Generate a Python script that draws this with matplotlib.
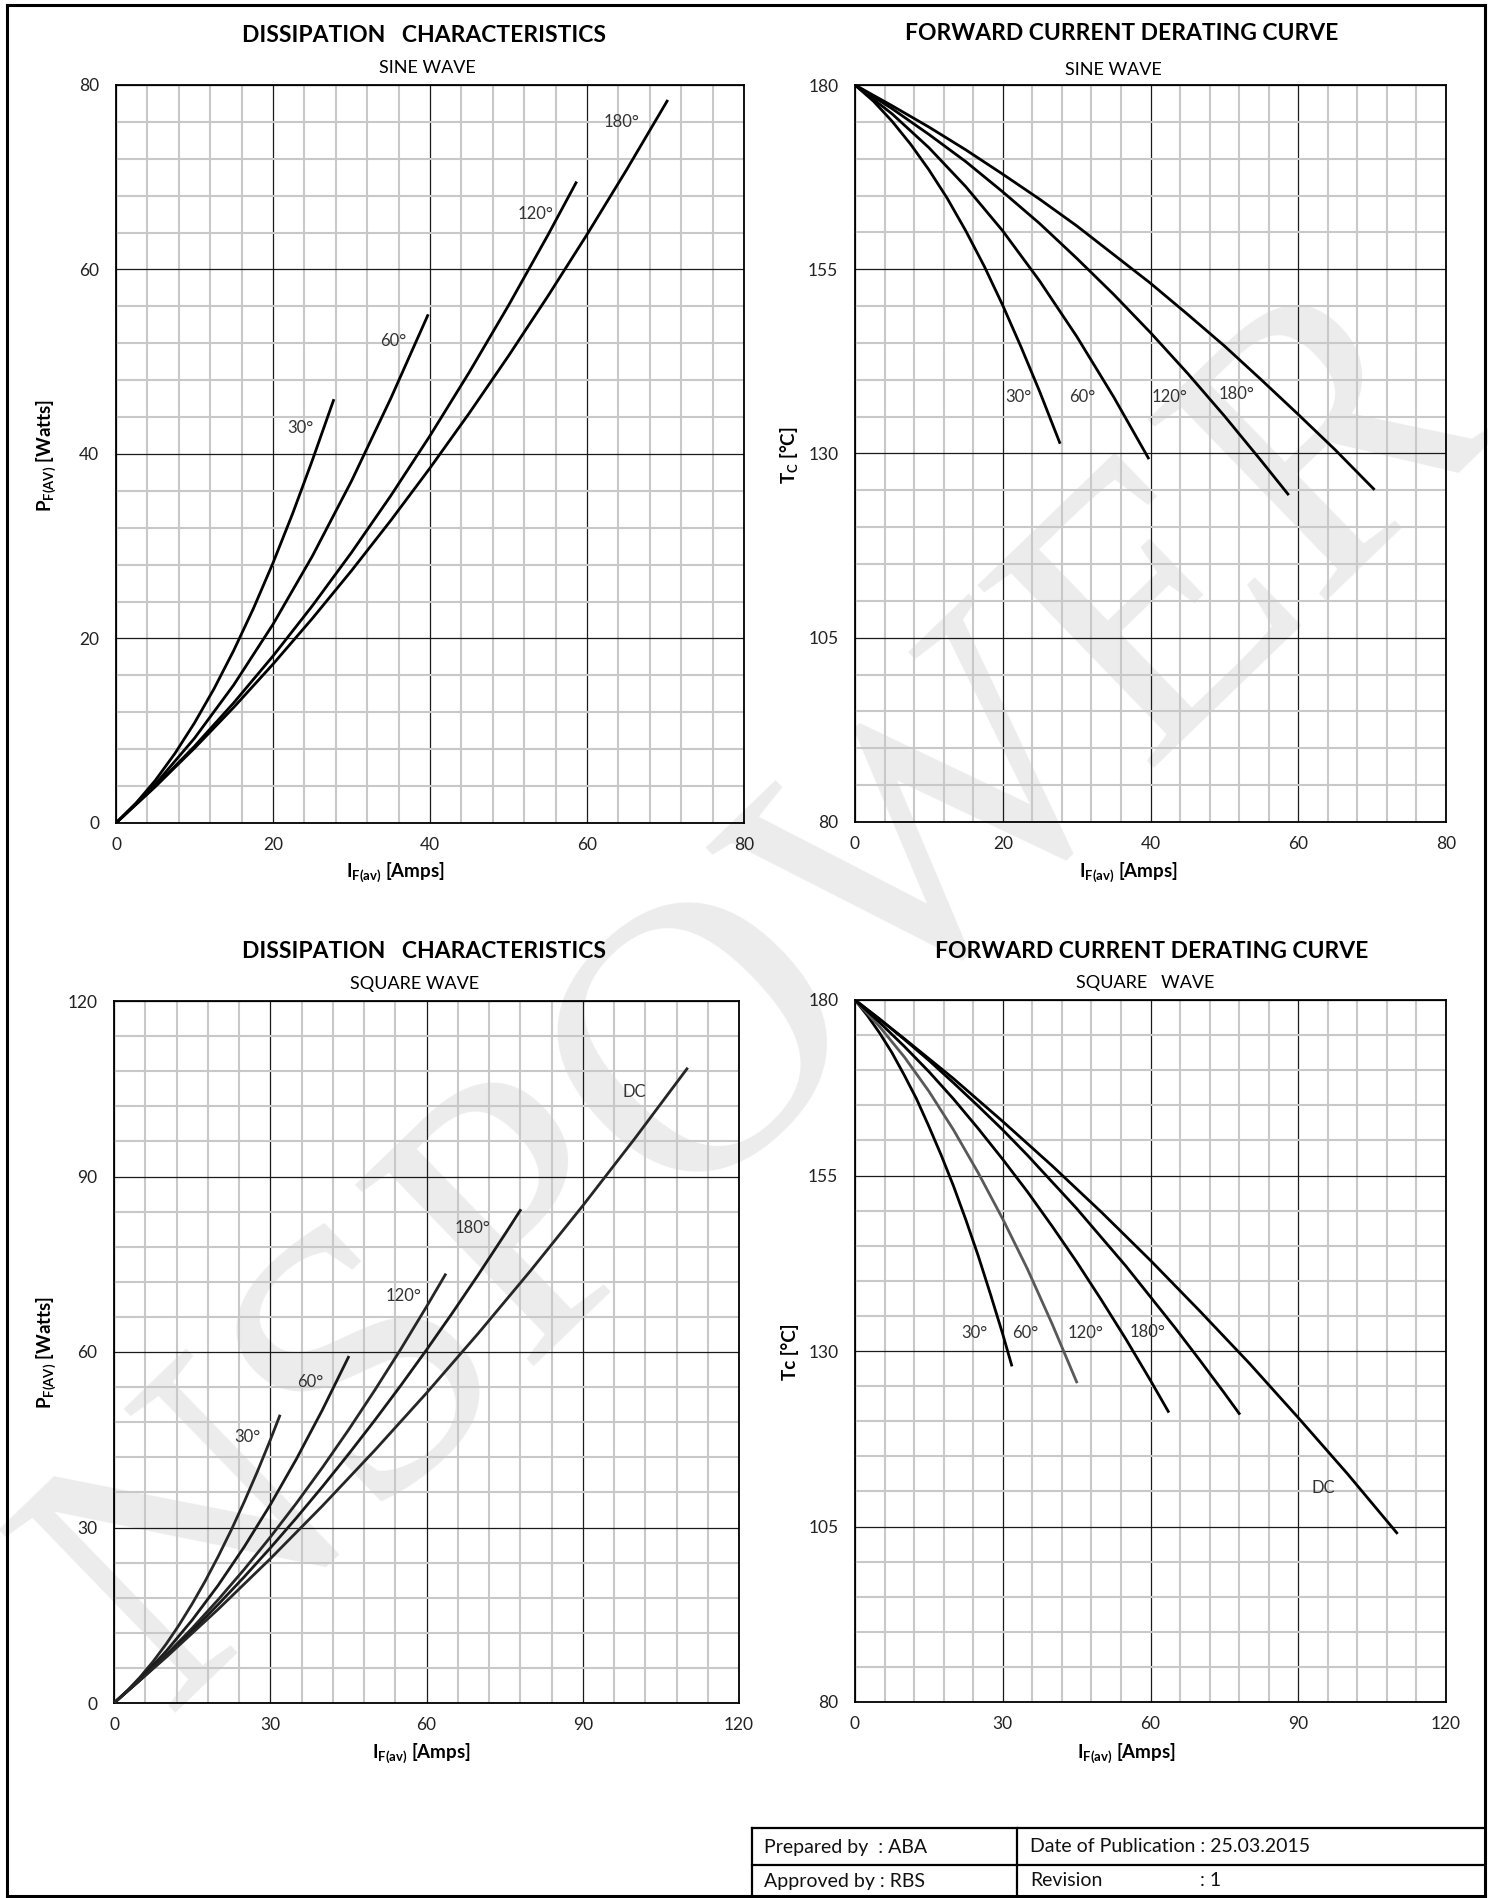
import matplotlib
matplotlib.use('Agg')
import matplotlib.pyplot as plt
from matplotlib.ticker import MultipleLocator, FixedLocator
from matplotlib.lines import Line2D

# ---------------- data ----------------
# Sine wave dissipation  (I_F(av) [A], P_F(AV) [W])
sine_i30 = [0, 2.5, 5, 7.5, 10, 12.5, 15, 17.5, 20, 22.5, 25, 27.7]
sine_p30 = [0, 2.10, 4.61, 7.53, 10.85, 14.57, 18.71, 23.24, 28.19, 33.54, 39.29, 45.8]
sine_i60 = [0, 5, 10, 15, 20, 25, 30, 35, 39.7]
sine_p60 = [0, 4.20, 9.19, 14.97, 21.54, 28.91, 37.07, 46.02, 55.0]
sine_i120 = [0, 5, 10, 15, 20, 25, 30, 35, 40, 45, 50, 55, 58.6]
sine_p120 = [0, 3.98, 8.32, 13.03, 18.10, 23.53, 29.32, 35.47, 41.98, 48.86, 56.1, 63.7, 69.4]
sine_i180 = [0, 5, 10, 15, 20, 25, 30, 35, 40, 45, 50, 55, 60, 65, 70.2]
sine_p180 = [0, 3.93, 8.11, 12.54, 17.22, 22.16, 27.35, 32.79, 38.48, 44.43, 50.63, 57.09, 63.79, 70.75, 78.25]

# Sine wave derating (Tc [degC])
sine_t30 = [180, 177.8, 175.1, 172.0, 168.5, 164.6, 160.2, 155.4, 150.1, 144.4, 138.4, 131.5]
sine_t60 = [180, 176.1, 171.5, 166.2, 160.2, 153.4, 145.9, 137.7, 129.4]
sine_t120 = [180, 176.8, 173.3, 169.6, 165.5, 161.2, 156.5, 151.6, 146.4, 140.9, 135.1, 129.0, 124.5]
sine_t180 = [180, 177.2, 174.3, 171.2, 167.9, 164.5, 160.9, 157.0, 153.1, 148.9, 144.6, 140.0, 135.3, 130.5, 125.2]

# Square wave dissipation
sq_i30 = [0, 2.5, 5, 7.5, 10, 12.5, 15, 17.5, 20, 22.5, 25, 27.5, 30, 31.8]
sq_p30 = [0, 2.05, 4.42, 7.08, 10.06, 13.34, 16.94, 20.83, 25.04, 29.55, 34.38, 39.5, 44.94, 49.05]
sq_i60 = [0, 5, 10, 15, 20, 25, 30, 35, 40, 45]
sq_p60 = [0, 4.11, 8.83, 14.17, 20.12, 26.69, 33.87, 41.67, 50.08, 59.1]
sq_i120 = [0, 5, 10, 15, 20, 25, 30, 35, 40, 45, 50, 55, 60, 63.6]
sq_p120 = [0, 3.95, 8.22, 12.78, 17.66, 22.84, 28.34, 34.13, 40.24, 46.65, 53.38, 60.4, 67.74, 73.2]
sq_i180 = [0, 5, 10, 15, 20, 25, 30, 35, 40, 45, 50, 55, 60, 65, 70, 75, 78]
sq_p180 = [0, 3.90, 8.01, 12.32, 16.84, 21.56, 26.49, 31.62, 36.96, 42.50, 48.25, 54.2, 60.36, 66.72, 73.29, 80.06, 84.2]
sq_idc = [0, 10, 20, 30, 40, 50, 60, 70, 80, 90, 100, 110]
sq_pdc = [0, 7.81, 16.02, 24.65, 33.68, 43.13, 52.98, 63.25, 73.92, 85.0, 96.5, 108.4]

# Square wave derating
sq_t30 = [180, 177.8, 175.3, 172.5, 169.3, 165.9, 162.0, 157.9, 153.5, 148.7, 143.6, 138.1, 132.4, 128.0]
sq_t60 = [180, 176.2, 171.9, 167.0, 161.5, 155.4, 148.8, 141.7, 133.9, 125.6]
sq_t120 = [180, 176.8, 173.4, 169.8, 165.9, 161.7, 157.3, 152.7, 147.8, 142.7, 137.3, 131.7, 125.8, 121.4]
sq_t180 = [180, 177.3, 174.4, 171.4, 168.2, 164.9, 161.5, 157.9, 154.1, 150.3, 146.2, 142.1, 137.7, 133.3, 128.7, 124.0, 121.1]
sq_tdc = [180, 174.5, 168.8, 162.7, 156.4, 149.8, 142.9, 135.7, 128.3, 120.5, 112.5, 104.1]

curve_names = ['30°', '60°', '120°', '180°', 'DC']

# tick values
ticks_i80 = [0, 20, 40, 60, 80]
ticks_p80 = [0, 20, 40, 60, 80]
ticks_i120 = [0, 30, 60, 90, 120]
ticks_p120 = [0, 30, 60, 90, 120]
ticks_tc = [80, 105, 130, 155, 180]

# ---------------- figure ----------------
W, H = 1488, 1898
plt.rcParams['font.family'] = ['Lato', 'DejaVu Sans']
plt.rcParams['mathtext.fontset'] = 'custom'
plt.rcParams['mathtext.rm'] = 'Lato'
plt.rcParams['mathtext.bf'] = 'Lato:bold'
plt.rcParams['mathtext.it'] = 'Lato:italic'

fig = plt.figure(figsize=(W / 100, H / 100), dpi=100)
fig.patch.set_facecolor('white')


def fxy(x, y):
    return x / W, 1 - y / H


# watermark (behind everything)
wx, wy = fxy(768, 1000)
fig.text(wx, wy, 'NSPOWER', family='Liberation Serif', fontsize=280, color='#ececec',
         rotation=44, ha='center', va='center', zorder=-5, rotation_mode='anchor')


def make_ax(l, r, t, b, xt, xmin, yt, ymin):
    ax = fig.add_axes([l / W, 1 - b / H, (r - l) / W, (b - t) / H])
    ax.set_facecolor('none')
    ax.set_xlim(xt[0], xt[-1])
    ax.set_ylim(yt[0], yt[-1])
    ax.xaxis.set_major_locator(FixedLocator(xt))
    ax.xaxis.set_minor_locator(MultipleLocator(xmin))
    ax.yaxis.set_major_locator(FixedLocator(yt))
    ax.yaxis.set_minor_locator(MultipleLocator(ymin))
    ax.grid(which='minor', color='#c8c8c8', lw=1.5, zorder=0)
    ax.grid(which='major', color='#1a1a1a', lw=0.9, zorder=1)
    ax.set_axisbelow(True)
    for s in ax.spines.values():
        s.set_color('black')
        s.set_linewidth(1.3)
    ax.tick_params(which='both', length=0, labelsize=12.5, colors='#222222')
    ax.tick_params(axis='x', pad=10)
    ax.tick_params(axis='y', pad=12)
    return ax


def ftext(x, y, s, **kw):
    fx, fy = fxy(x, y)
    fig.text(fx, fy, s, ha='center', va='center', **kw)


LW = 2.0
lab_kw = dict(fontsize=12, color='#333333', ha='center', va='center')

# ---- top-left: sine dissipation ----
ax1 = make_ax(116, 744, 85, 823, ticks_i80, 4, ticks_p80, 4)
for xi, yi in [(sine_i30, sine_p30), (sine_i60, sine_p60), (sine_i120, sine_p120), (sine_i180, sine_p180)]:
    ax1.plot(xi, yi, color='black', lw=LW, zorder=3)
for (x, y), s in zip([(23.5, 42.8), (35.3, 52.3), (53.4, 66.0), (64.4, 76.0)], curve_names):
    ax1.text(x, y, s, **lab_kw)
ftext(424, 35, 'DISSIPATION   CHARACTERISTICS', fontsize=16.5, fontweight='bold')
ftext(427, 68, 'SINE WAVE', fontsize=13)
ftext(395, 872, r'$\mathbf{I_{F(av)}}$ [Amps]', fontsize=13.5, fontweight='bold')
ftext(46, 455, r'$\mathbf{P_{F(AV)}}$ [Watts]', fontsize=13.5, fontweight='bold', rotation=90)

# ---- top-right: sine derating ----
ax2 = make_ax(855, 1446, 85, 822, ticks_i80, 4, ticks_tc, 5)
for xi, yi in [(sine_i30, sine_t30), (sine_i60, sine_t60), (sine_i120, sine_t120), (sine_i180, sine_t180)]:
    ax2.plot(xi, yi, color='black', lw=LW, zorder=3)
for (x, y), s in zip([(22.1, 137.7), (30.8, 137.7), (42.6, 137.7), (51.7, 138.1)], curve_names):
    ax2.text(x, y, s, **lab_kw)
ftext(1122, 33, 'FORWARD CURRENT DERATING CURVE', fontsize=16.5, fontweight='bold')
ftext(1113, 70, 'SINE WAVE', fontsize=13)
ftext(1128, 872, r'$\mathbf{I_{F(av)}}$ [Amps]', fontsize=13.5, fontweight='bold')
ftext(789, 455, r'$\mathbf{T_{C}}$ [°C]', fontsize=13.5, fontweight='bold', rotation=90)

# ---- bottom-left: square dissipation ----
ax3 = make_ax(114, 739, 1001, 1703, ticks_i120, 6, ticks_p120, 6)
sq_cols = ['#262626', '#1a1a1a', '#262626', '#1a1a1a', '#262626']
for (xi, yi), c in zip([(sq_i30, sq_p30), (sq_i60, sq_p60), (sq_i120, sq_p120), (sq_i180, sq_p180), (sq_idc, sq_pdc)], sq_cols):
    ax3.plot(xi, yi, color=c, lw=LW, zorder=3)
for (x, y), s in zip([(25.6, 45.4), (37.6, 54.8), (55.5, 69.6), (68.8, 81.2), (99.8, 104.4)], curve_names):
    ax3.text(x, y, s, **lab_kw)
ftext(424, 952, 'DISSIPATION   CHARACTERISTICS', fontsize=16.5, fontweight='bold')
ftext(415, 984, 'SQUARE WAVE', fontsize=13)
ftext(421, 1753, r'$\mathbf{I_{F(av)}}$ [Amps]', fontsize=13.5, fontweight='bold')
ftext(46, 1352, r'$\mathbf{P_{F(AV)}}$ [Watts]', fontsize=13.5, fontweight='bold', rotation=90)

# ---- bottom-right: square derating ----
ax4 = make_ax(855, 1446, 1000, 1702, ticks_i120, 6, ticks_tc, 5)
sqd_cols = ['black', '#595959', 'black', 'black', 'black']
for (xi, yi), c in zip([(sq_i30, sq_t30), (sq_i60, sq_t60), (sq_i120, sq_t120), (sq_i180, sq_t180), (sq_idc, sq_tdc)], sqd_cols):
    ax4.plot(xi, yi, color=c, lw=LW, zorder=3)
for (x, y), s in zip([(24.3, 132.5), (34.6, 132.5), (46.9, 132.5), (59.4, 132.7), (95.0, 110.5)], curve_names):
    ax4.text(x, y, s, **lab_kw)
ftext(1152, 951, 'FORWARD CURRENT DERATING CURVE', fontsize=16.5, fontweight='bold')
ftext(1145, 983, 'SQUARE   WAVE', fontsize=13)
ftext(1126, 1753, r'$\mathbf{I_{F(av)}}$ [Amps]', fontsize=13.5, fontweight='bold')
ftext(790, 1352, 'Tc [°C]', fontsize=13.5, fontweight='bold', rotation=90)


# ---- page border ----
def hline(x0, x1, y, lw):
    a, b = fxy(x0, y)
    c, _ = fxy(x1, y)
    fig.add_artist(Line2D([a, c], [b, b], color='black', lw=lw))


def vline(x, y0, y1, lw):
    a, b = fxy(x, y0)
    _, d = fxy(x, y1)
    fig.add_artist(Line2D([a, a], [b, d], color='black', lw=lw))


hline(7, 1485, 5, 2.2)
hline(7, 1485, 1896, 2.2)
vline(7, 5, 1896, 2.2)
vline(1485, 5, 1896, 2.2)

# ---- info table ----
hline(752, 1485, 1828, 1.6)
hline(752, 1485, 1865, 1.6)
vline(752, 1828, 1896, 1.6)
vline(1017, 1828, 1896, 1.6)

tkw = dict(fontsize=14, color='#111111', va='center', ha='left')
for x, y, s in [(764, 1847, 'Prepared by  : ABA'), (1030, 1847, 'Date of Publication : 25.03.2015'),
                (764, 1881, 'Approved by : RBS'), (1030, 1881, 'Revision'), (1200, 1881, ': 1')]:
    fx, fy = fxy(x, y)
    fig.text(fx, fy, s, **tkw)

fig.savefig('out.png', dpi=100, facecolor='white')
